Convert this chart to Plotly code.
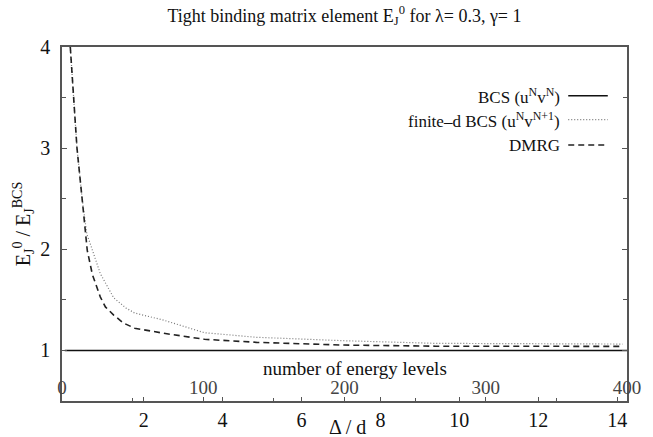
import plotly.graph_objects as go

# ---- data ----
bcs_delta = [0.0, 14.3]
bcs_ratio = [1.0, 1.0]

fd_delta = [0.14, 0.23, 0.31, 0.44, 0.56, 0.65, 0.90, 1.24, 1.55, 1.77, 2.50, 3.54, 4.86, 7.07, 9.40, 14.14]
fd_ratio = [4.0, 3.5, 3.0, 2.5, 2.15, 2.05, 1.76, 1.52, 1.42, 1.37, 1.30, 1.175, 1.13, 1.096, 1.07, 1.063]

dmrg_delta = [0.14, 0.23, 0.31, 0.44, 0.57, 0.70, 0.90, 1.03, 1.24, 1.49, 1.77, 2.50, 3.54, 4.86, 7.07, 9.40, 14.14]
dmrg_ratio = [4.0, 3.5, 3.0, 2.5, 1.99, 1.75, 1.53, 1.43, 1.35, 1.27, 1.22, 1.17, 1.11, 1.08, 1.053, 1.042, 1.04]

x_ticks = [2, 4, 6, 8, 10, 12, 14]
y_ticks = [1, 2, 3, 4]
level_ticks = [0, 100, 200, 300, 400]
level_range = [0, 400]

legend_labels = ["BCS (u<sup>N</sup>v<sup>N</sup>)",
                 "finite\u2013d BCS (u<sup>N</sup>v<sup>N+1</sup>)",
                 "DMRG"]

FONT = "Liberation Serif"
AX = "#555555"

fig = go.Figure()
fig.add_trace(go.Scatter(x=bcs_delta, y=bcs_ratio, mode="lines",
                         line=dict(color="#111111", width=1.5), showlegend=False))
fig.add_trace(go.Scatter(x=fd_delta, y=fd_ratio, mode="lines",
                         line=dict(color="#777777", width=1.2, dash="1px,2px"), showlegend=False))
fig.add_trace(go.Scatter(x=dmrg_delta, y=dmrg_ratio, mode="lines",
                         line=dict(color="#222222", width=1.6, dash="6px,4px"), showlegend=False))
# helper trace so the level axis is drawn
fig.add_trace(go.Scatter(x=level_range, y=[None, None], xaxis="x2", mode="lines",
                         showlegend=False, hoverinfo="skip"))

# custom legend: text right-aligned, sample to the right
styles = [dict(color="#111111", width=1.5, dash="solid"),
          dict(color="#777777", width=1.2, dash="1px,2px"),
          dict(color="#222222", width=1.6, dash="6px,4px")]
rows_y = [0.862, 0.795, 0.723]
for lab, st, yy in zip(legend_labels, styles, rows_y):
    fig.add_annotation(text=lab, xref="paper", yref="paper", x=0.885, y=yy,
                       xanchor="right", yanchor="middle", showarrow=False,
                       font=dict(family=FONT, size=17, color="#111111"))
    fig.add_shape(type="line", xref="paper", yref="paper",
                  x0=0.896, x1=0.966, y0=yy, y1=yy, line=st)

fig.add_annotation(text="number of energy levels", xref="paper", yref="paper",
                   x=0.519, y=0.093, showarrow=False, xanchor="center", yanchor="middle",
                   font=dict(family=FONT, size=19, color="#111111"))
fig.add_annotation(text="\u0394 / d", xref="paper", yref="paper",
                   x=0.505, y=-0.073, showarrow=False, xanchor="center", yanchor="middle",
                   font=dict(family=FONT, size=20, color="#111111"))

fig.update_layout(
    width=653, height=437,
    margin=dict(l=62, r=26, t=47, b=36),
    paper_bgcolor="white", plot_bgcolor="white",
    font=dict(family=FONT, size=20, color="#111111"),
    title=dict(text="Tight binding matrix element E<sub>J</sub><sup>0</sup> for \u03bb= 0.3, \u03b3= 1",
               x=0.5, xref="paper", xanchor="center", y=0.965, yanchor="middle",
               font=dict(family=FONT, size=18, color="#111111")),
    xaxis=dict(range=[-0.07, 14.25], tickvals=x_ticks, ticks="inside", ticklen=4,
               tickcolor=AX, showline=True, linecolor=AX, linewidth=1.5, mirror=True,
               showgrid=False, zeroline=False, ticklabelstandoff=0,
               tickfont=dict(family=FONT, size=20),
               automargin=False),
    xaxis2=dict(range=level_range, overlaying="x", anchor="y", side="bottom",
                tickvals=level_ticks, ticks="inside", ticklen=4, tickcolor=AX,
                minor=dict(dtick=50, tick0=0, ticks="inside", ticklen=3, tickcolor=AX),
                ticklabelposition="inside", ticklabeloverflow="allow",
                tickfont=dict(family=FONT, size=19),
                showline=False, showgrid=False, zeroline=False, automargin=False),
    yaxis=dict(range=[0.5, 4.0], tickvals=y_ticks, ticks="inside", ticklen=5,
               tickcolor=AX, minor=dict(dtick=0.5, tick0=0.5, ticks="inside", ticklen=4,
                                        tickcolor=AX),
               showline=True, linecolor=AX, linewidth=1.5, mirror="ticks",
               showgrid=False, zeroline=False, ticklabelstandoff=6,
               tickfont=dict(family=FONT, size=20),
               title=dict(text="E<sub>J</sub><sup>0</sup> / E<sub>J</sub><sup>BCS</sup>",
                          standoff=4, font=dict(family=FONT, size=20)),
               automargin=False),
)

fig.write_html("out.html")
